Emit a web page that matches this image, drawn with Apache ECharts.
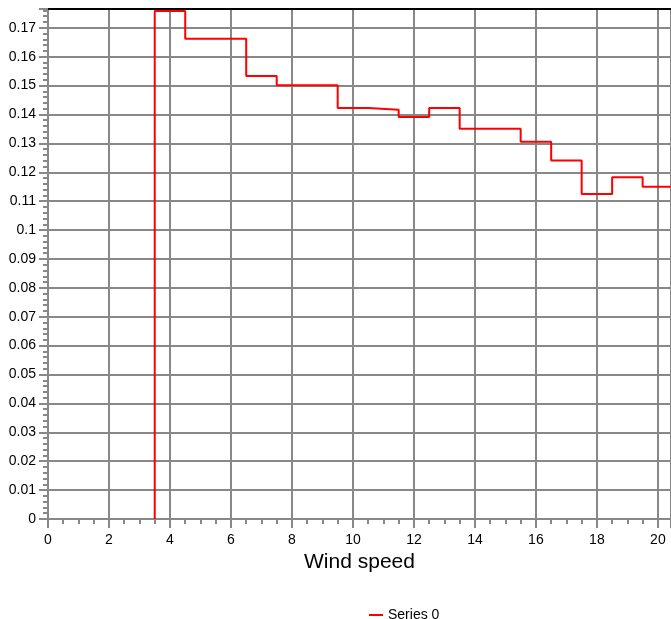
<!DOCTYPE html>
<html>
<head>
<meta charset="utf-8">
<script src="https://cdn.jsdelivr.net/npm/echarts@6/dist/echarts.min.js"></script>
<style>html,body{margin:0;padding:0;background:#fff}#c{width:671px;height:619px}</style>
</head>
<body>
<div id="c"></div>
<script>
// Wind speed bin centres (bins are 1 m/s wide)
const windBins = [4, 5, 6, 7, 8, 9, 10, 11, 12, 13, 14, 15, 16, 17, 18, 19, 20];
// Series 0 values per bin
const series0 = [0.1758, 0.1662, 0.1662, 0.1533, 0.1501, 0.1501, 0.1422, 0.1416, 0.1391, 0.1422, 0.1351, 0.1351, 0.1306, 0.1241, 0.1125, 0.1183, 0.1150];
const seriesName = 'Series 0';
const xAxisName = 'Wind speed';

// Step line: starts at the lower edge of the first bin at 0, then each bin's right edge
const binWidth = 1;
const stepData = [[windBins[0] - binWidth / 2, 0]];
windBins.forEach((c, i) => stepData.push([c + binWidth / 2, series0[i]]));

const gray = '#888888';
const chart = echarts.init(document.getElementById('c'), null, {renderer: 'canvas'});
chart.setOption({
  animation: false,
  backgroundColor: '#ffffff',
  grid: {left: 48, right: 0, top: 9, bottom: 100, containLabel: false},
  legend: {
    left: 364, top: 603,
    itemWidth: 14, itemHeight: 2, icon: 'rect',
    textStyle: {fontFamily: 'Liberation Sans, Arial, sans-serif', fontSize: 14, color: '#000'},
    data: [seriesName]
  },
  xAxis: [{
    type: 'value', min: 0, max: 20.43, interval: 2,
    name: xAxisName, nameLocation: 'middle', nameGap: 31,
    nameTextStyle: {fontFamily: 'Liberation Sans, Arial, sans-serif', fontSize: 21, color: '#000'},
    axisLine: {show: true, onZero: false, lineStyle: {color: gray, width: 2}},
    axisTick: {show: true, length: 9, lineStyle: {color: gray, width: 2}},
    minorTick: {show: true, splitNumber: 4, length: 5, lineStyle: {color: gray, width: 2}},
    axisLabel: {margin: 14, showMaxLabel: false, fontFamily: 'Liberation Sans, Arial, sans-serif', fontSize: 14, color: '#000'},
    splitLine: {show: true, lineStyle: {color: gray, width: 2}}
  }, {
    type: 'value', position: 'top', min: 0, max: 20.43,
    axisLine: {show: true, onZero: false, lineStyle: {color: '#000', width: 2}},
    axisTick: {show: false}, axisLabel: {show: false}, splitLine: {show: false}
  }],
  yAxis: {
    type: 'value', min: 0, max: 0.1765, interval: 0.01,
    axisLine: {show: true, onZero: false, lineStyle: {color: gray, width: 2}},
    axisTick: {show: true, length: 9, lineStyle: {color: gray, width: 2}},
    minorTick: {show: true, splitNumber: 5, length: 5, lineStyle: {color: gray, width: 2}},
    axisLabel: {margin: 12, showMaxLabel: false, fontFamily: 'Liberation Sans, Arial, sans-serif', fontSize: 14, color: '#000',
      formatter: v => String(+v.toFixed(2))},
    splitLine: {show: true, lineStyle: {color: gray, width: 2}}
  },
  series: [{
    name: seriesName, type: 'line', step: 'start', data: stepData,
    xAxisIndex: 0, symbol: 'none', clip: true,
    lineStyle: {color: '#ff0000', width: 2},
    itemStyle: {color: '#ff0000'}
  }]
});
</script>
</body>
</html>
